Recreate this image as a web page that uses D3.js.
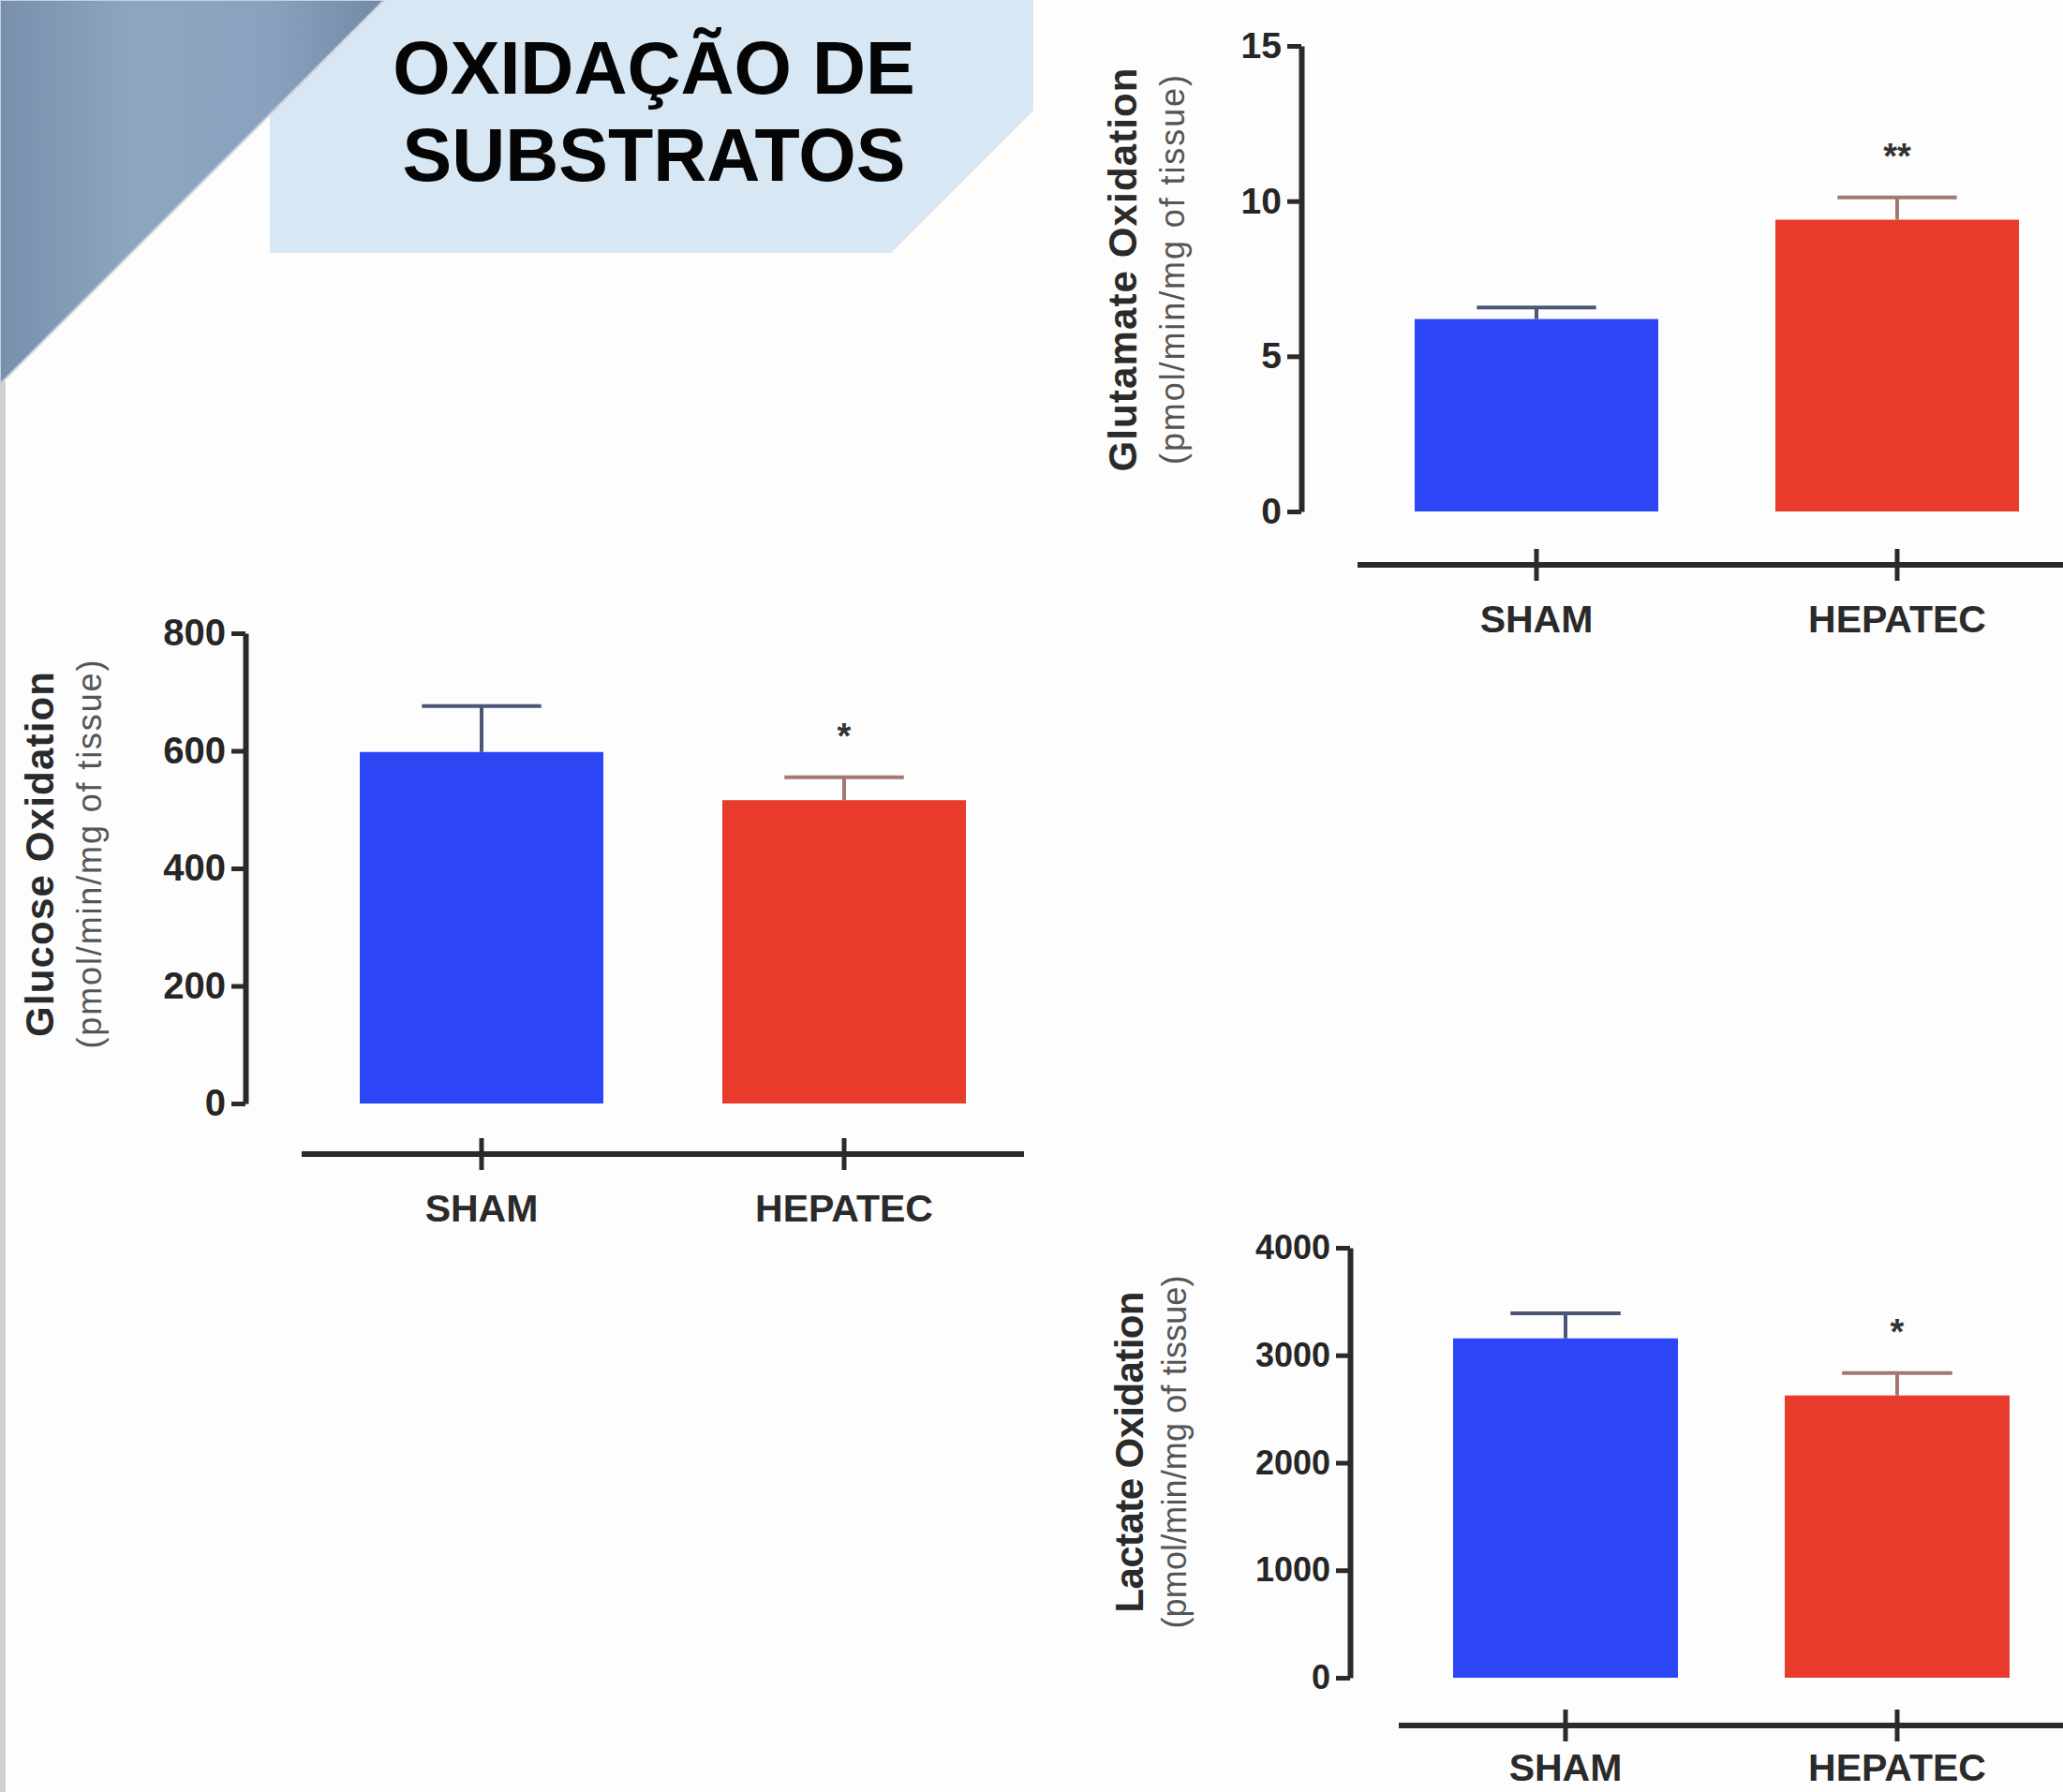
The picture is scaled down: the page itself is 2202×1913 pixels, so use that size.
<!DOCTYPE html>
<html>
<head>
<meta charset="utf-8">
<script src="https://cdn.jsdelivr.net/npm/d3@7"></script>
<style>
  html, body { margin: 0; padding: 0; background: #fdfdfd; }
  svg { display: block; }
</style>
</head>
<body>
<svg id="chart"></svg>
<script>
// data
var groups = ["SHAM", "HEPATEC"];

var glutamateMean = [6.2, 9.4];
var glutamateErr = [0.37, 0.72];
var glutamateTicks = [0, 5, 10, 15];
var glutamateStars = ["", "**"];

var glucoseMean = [598, 516];
var glucoseErr = [78, 39];
var glucoseTicks = [0, 200, 400, 600, 800];
var glucoseStars = ["", "*"];

var lactateMean = [3157, 2626];
var lactateErr = [234, 209];
var lactateTicks = [0, 1000, 2000, 3000, 4000];
var lactateStars = ["", "*"];

var titleLines = ["OXIDAÇÃO DE", "SUBSTRATOS"];
var unitLabel = "(pmol/min/mg of tissue)";

var W = 2202, H = 1913;
var barColors = ["#2c46f6", "#e83b2b"];
var errColors = ["#4b5674", "#a27870"];
var font = "'Liberation Sans', Arial, sans-serif";

var svg = d3.select("#chart").attr("width", W).attr("height", H);

svg.append("rect").attr("width", W).attr("height", H).attr("fill", "#fdfdfd");

// decorative background of the slide
var defs = svg.append("defs");
var grad = defs.append("linearGradient").attr("id", "steel")
  .attr("x1", "0").attr("y1", "0").attr("x2", "1").attr("y2", "0");
grad.append("stop").attr("offset", "0%").attr("stop-color", "#7890ab");
grad.append("stop").attr("offset", "35%").attr("stop-color", "#8ea7c1");
grad.append("stop").attr("offset", "70%").attr("stop-color", "#8aa2bd");
grad.append("stop").attr("offset", "100%").attr("stop-color", "#728aa6");

svg.append("rect").attr("x", 0).attr("y", 407).attr("width", 6).attr("height", H - 407)
  .attr("fill", "#d0d0d0");
svg.append("path").attr("d", "M288,0 L1103,0 L1103,118 L951,270 L288,270 Z")
  .attr("fill", "#d8e7f4");
svg.append("path").attr("d", "M0,0 L410,0 L0,410 Z").attr("fill", "url(#steel)")
  .attr("stroke", "#c8d0d8").attr("stroke-width", 2);

svg.selectAll("text.title").data(titleLines).join("text")
  .attr("class", "title")
  .attr("x", 698)
  .attr("y", function(d, i) { return 100 + i * 93; })
  .attr("text-anchor", "middle")
  .attr("font-family", font).attr("font-weight", "bold")
  .attr("font-size", 79).attr("fill", "#050505")
  .text(function(d) { return d; });

var panels = [
  { name: "Glutamate Oxidation", mean: glutamateMean, err: glutamateErr, ticks: glutamateTicks,
    stars: glutamateStars, max: 15, axisX: 1389, y0: 546, yTop: 49, band: [1510, 2155], barW: 260,
    lineX: [1449, 2202], xAxisY: 603, labelDy: 72, titleX: 1198, subX: 1251, titleY: 288,
    titleLen: 431, subLen: 416, tickFont: 39 },
  { name: "Glucose Oxidation", mean: glucoseMean, err: glucoseErr, ticks: glucoseTicks,
    stars: glucoseStars, max: 800, axisX: 262, y0: 1178, yTop: 676, band: [384, 1031], barW: 260,
    lineX: [322, 1093], xAxisY: 1232, labelDy: 72, titleX: 42, subX: 95, titleY: 912,
    titleLen: 390, subLen: 415, tickFont: 40 },
  { name: "Lactate Oxidation", mean: lactateMean, err: lactateErr, ticks: lactateTicks,
    stars: lactateStars, max: 4000, axisX: 1441, y0: 1791, yTop: 1332, band: [1551, 2145], barW: 240,
    lineX: [1493, 2202], xAxisY: 1842, labelDy: 59, titleX: 1205, subX: 1253, titleY: 1550,
    titleLen: 343, subLen: 377, tickFont: 36 }
];

panels.forEach(function(p) {
  var g = svg.append("g");
  var step = p.band[1] - p.band[0] - p.barW;
  var x = d3.scaleBand().domain(groups).range(p.band)
    .paddingInner(1 - p.barW / step).paddingOuter(0);
  var y = d3.scaleLinear().domain([0, p.max]).range([p.y0, p.yTop]);
  var rows = groups.map(function(k, i) {
    return { key: k, mean: p.mean[i], err: p.err[i], star: p.stars[i], i: i };
  });

  // bars
  g.selectAll("rect.bar").data(rows).join("rect")
    .attr("class", "bar")
    .attr("x", function(d) { return x(d.key); })
    .attr("y", function(d) { return y(d.mean); })
    .attr("width", x.bandwidth())
    .attr("height", function(d) { return y(0) - y(d.mean); })
    .attr("fill", function(d) { return barColors[d.i]; });

  // error bars (upper only)
  var cap = x.bandwidth() * 0.49;
  g.selectAll("line.err").data(rows).join("line")
    .attr("class", "err")
    .attr("x1", function(d) { return x(d.key) + x.bandwidth() / 2; })
    .attr("x2", function(d) { return x(d.key) + x.bandwidth() / 2; })
    .attr("y1", function(d) { return y(d.mean); })
    .attr("y2", function(d) { return y(d.mean + d.err); })
    .attr("stroke", function(d) { return errColors[d.i]; })
    .attr("stroke-width", 4);
  g.selectAll("line.cap").data(rows).join("line")
    .attr("class", "cap")
    .attr("x1", function(d) { return x(d.key) + x.bandwidth() / 2 - cap / 2; })
    .attr("x2", function(d) { return x(d.key) + x.bandwidth() / 2 + cap / 2; })
    .attr("y1", function(d) { return y(d.mean + d.err); })
    .attr("y2", function(d) { return y(d.mean + d.err); })
    .attr("stroke", function(d) { return errColors[d.i]; })
    .attr("stroke-width", 4);

  g.selectAll("text.star").data(rows).join("text")
    .attr("class", "star")
    .attr("x", function(d) { return x(d.key) + x.bandwidth() / 2; })
    .attr("y", function(d) { return y(d.mean + d.err) - 31; })
    .attr("text-anchor", "middle")
    .attr("font-family", font).attr("font-weight", "bold").attr("font-size", 38)
    .attr("fill", "#333")
    .text(function(d) { return d.star; });

  // y axis
  var ax = g.append("g").attr("transform", "translate(" + p.axisX + ",0)")
    .call(d3.axisLeft(y).tickValues(p.ticks).tickSize(15).tickSizeOuter(0).tickPadding(6)
      .tickFormat(d3.format("d")));
  ax.select(".domain").attr("stroke", "#2a2a2a").attr("stroke-width", 6);
  ax.selectAll(".tick line").attr("stroke", "#2a2a2a").attr("stroke-width", 5);
  ax.selectAll(".tick text").attr("font-family", font).attr("font-weight", "bold")
    .attr("font-size", p.tickFont).attr("fill", "#262626");

  // x axis: a free line with crossing ticks
  g.append("line").attr("x1", p.lineX[0]).attr("x2", p.lineX[1])
    .attr("y1", p.xAxisY).attr("y2", p.xAxisY)
    .attr("stroke", "#2a2a2a").attr("stroke-width", 6);
  g.selectAll("line.xtick").data(groups).join("line")
    .attr("class", "xtick")
    .attr("x1", function(d) { return x(d) + x.bandwidth() / 2; })
    .attr("x2", function(d) { return x(d) + x.bandwidth() / 2; })
    .attr("y1", p.xAxisY - 17).attr("y2", p.xAxisY + 17)
    .attr("stroke", "#2a2a2a").attr("stroke-width", 5);
  g.selectAll("text.xlab").data(groups).join("text")
    .attr("class", "xlab")
    .attr("x", function(d) { return x(d) + x.bandwidth() / 2; })
    .attr("y", p.xAxisY + p.labelDy)
    .attr("text-anchor", "middle")
    .attr("font-family", font).attr("font-weight", "bold").attr("font-size", 41)
    .attr("fill", "#2a2a2a")
    .text(function(d) { return d; });

  // y titles
  g.append("text")
    .attr("transform", "translate(" + (p.titleX + 15) + "," + p.titleY + ") rotate(-90)")
    .attr("text-anchor", "middle")
    .attr("font-family", font).attr("font-weight", "bold").attr("font-size", 42)
    .attr("textLength", p.titleLen).attr("lengthAdjust", "spacing")
    .attr("fill", "#2a2a2a")
    .text(p.name);
  g.append("text")
    .attr("transform", "translate(" + (p.subX + 13) + "," + p.titleY + ") rotate(-90)")
    .attr("text-anchor", "middle")
    .attr("font-family", font).attr("font-size", 36)
    .attr("textLength", p.subLen).attr("lengthAdjust", "spacing")
    .attr("fill", "#555")
    .text(unitLabel);
});
</script>
</body>
</html>
